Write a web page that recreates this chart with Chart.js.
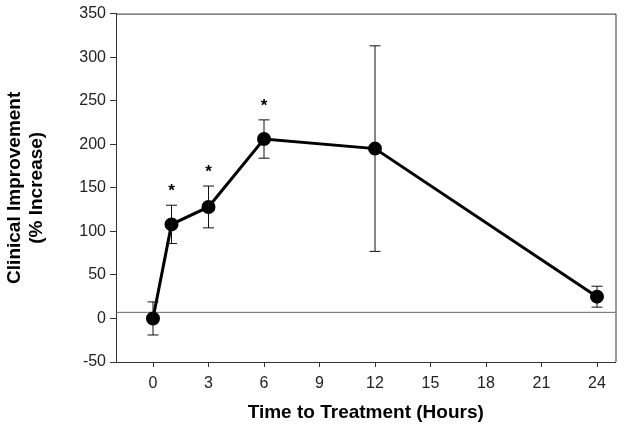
<!DOCTYPE html>
<html>
<head>
<meta charset="utf-8">
<script src="https://cdn.jsdelivr.net/npm/chart.js@4.4.1/dist/chart.umd.min.js"></script>
<style>
  html, body { margin: 0; padding: 0; background: #fff; }
  #wrap { width: 624px; height: 429px; }
</style>
</head>
<body>
<div id="wrap"><canvas id="improvementChart" width="624" height="429"></canvas></div>
<script>
// data
var hours = [0, 1, 3, 6, 12, 24];
var improvement = [0, 108, 128, 206, 195, 25];
var errors = [19, 22, 24, 22, 118, 12];
var significant = [false, true, true, true, false, false];
var baselineValue = 7;
var xTicks = [0, 3, 6, 9, 12, 15, 18, 21, 24];

var points = hours.map(function (h, i) { return { x: h, y: improvement[i] }; });

// error bars + asterisks
var errorBarPlugin = {
    id: 'errorBars',
    afterDatasetsDraw: function (chart) {
        var ctx = chart.ctx;
        var xs = chart.scales.x, ys = chart.scales.y;
        ctx.save();
        ctx.strokeStyle = '#111';
        ctx.lineWidth = 1;
        hours.forEach(function (h, i) {
            var px = xs.getPixelForValue(h);
            var top = ys.getPixelForValue(improvement[i] + errors[i]);
            var bot = ys.getPixelForValue(improvement[i] - errors[i]);
            ctx.beginPath();
            ctx.moveTo(px, top); ctx.lineTo(px, bot);
            ctx.moveTo(px - 5.5, top); ctx.lineTo(px + 5.5, top);
            ctx.moveTo(px - 5.5, bot); ctx.lineTo(px + 5.5, bot);
            ctx.stroke();
            if (significant[i]) {
                ctx.fillStyle = '#000';
                ctx.font = 'bold 17px "Liberation Sans", Arial, sans-serif';
                ctx.textAlign = 'center';
                ctx.textBaseline = 'middle';
                ctx.fillText('*', px, top - 14);
            }
        });
        ctx.restore();
    }
};

// top and right frame lines
var framePlugin = {
    id: 'frame',
    afterDraw: function (chart) {
        var a = chart.chartArea, ctx = chart.ctx;
        ctx.save();
        ctx.strokeStyle = '#333';
        ctx.lineWidth = 1;
        ctx.beginPath();
        ctx.moveTo(a.left, a.top + 0.5);
        ctx.lineTo(a.right + 0.5, a.top + 0.5);
        ctx.lineTo(a.right + 0.5, a.bottom);
        ctx.stroke();
        ctx.restore();
    }
};

var ctx = document.getElementById('improvementChart').getContext('2d');
new Chart(ctx, {
    type: 'line',
    data: {
        datasets: [{
            label: 'Improvement',
            data: points,
            borderColor: '#000',
            backgroundColor: '#000',
            borderWidth: 3,
            pointRadius: 5.5,
            pointHoverRadius: 5.5,
            tension: 0,
            order: 1
        }, {
            label: 'Baseline',
            data: [{ x: -2, y: baselineValue }, { x: 25, y: baselineValue }],
            borderColor: '#666',
            borderWidth: 1,
            pointRadius: 0,
            order: 2
        }]
    },
    options: {
        responsive: false,
        animation: false,
        layout: { padding: { top: 12, right: 6, left: 0, bottom: 0 } },
        plugins: {
            legend: { display: false },
            tooltip: { enabled: false }
        },
        scales: {
            x: {
                type: 'linear',
                min: -2,
                max: 25,
                afterBuildTicks: function (scale) {
                    scale.ticks = xTicks.map(function (v) { return { value: v }; });
                },
                afterFit: function (scale) { scale.height = 67; },
                grid: { drawOnChartArea: false, drawTicks: true, tickLength: 5, color: '#333' },
                border: { display: true, color: '#333', width: 1 },
                ticks: {
                    color: '#222',
                    padding: 7,
                    font: { family: '"Liberation Sans", Arial, sans-serif', size: 16 }
                },
                title: {
                    display: true,
                    text: 'Time to Treatment (Hours)',
                    color: '#000',
                    padding: { top: 0, bottom: 5 },
                    font: { family: '"Liberation Sans", Arial, sans-serif', size: 19, weight: 'bold' }
                }
            },
            y: {
                min: -50,
                max: 350,
                afterFit: function (scale) { scale.width = 116; },
                grid: { drawOnChartArea: false, drawTicks: true, tickLength: 6, color: '#333' },
                border: { display: true, color: '#333', width: 1 },
                ticks: {
                    stepSize: 50,
                    color: '#222',
                    padding: 4,
                    font: { family: '"Liberation Sans", Arial, sans-serif', size: 16 }
                },
                title: {
                    display: true,
                    text: ['Clinical Improvement', '(% Increase)'],
                    color: '#000',
                    padding: { top: 3, bottom: 0 },
                    font: { family: '"Liberation Sans", Arial, sans-serif', size: 19, weight: 'bold' }
                }
            }
        }
    },
    plugins: [errorBarPlugin, framePlugin]
});
</script>
</body>
</html>
